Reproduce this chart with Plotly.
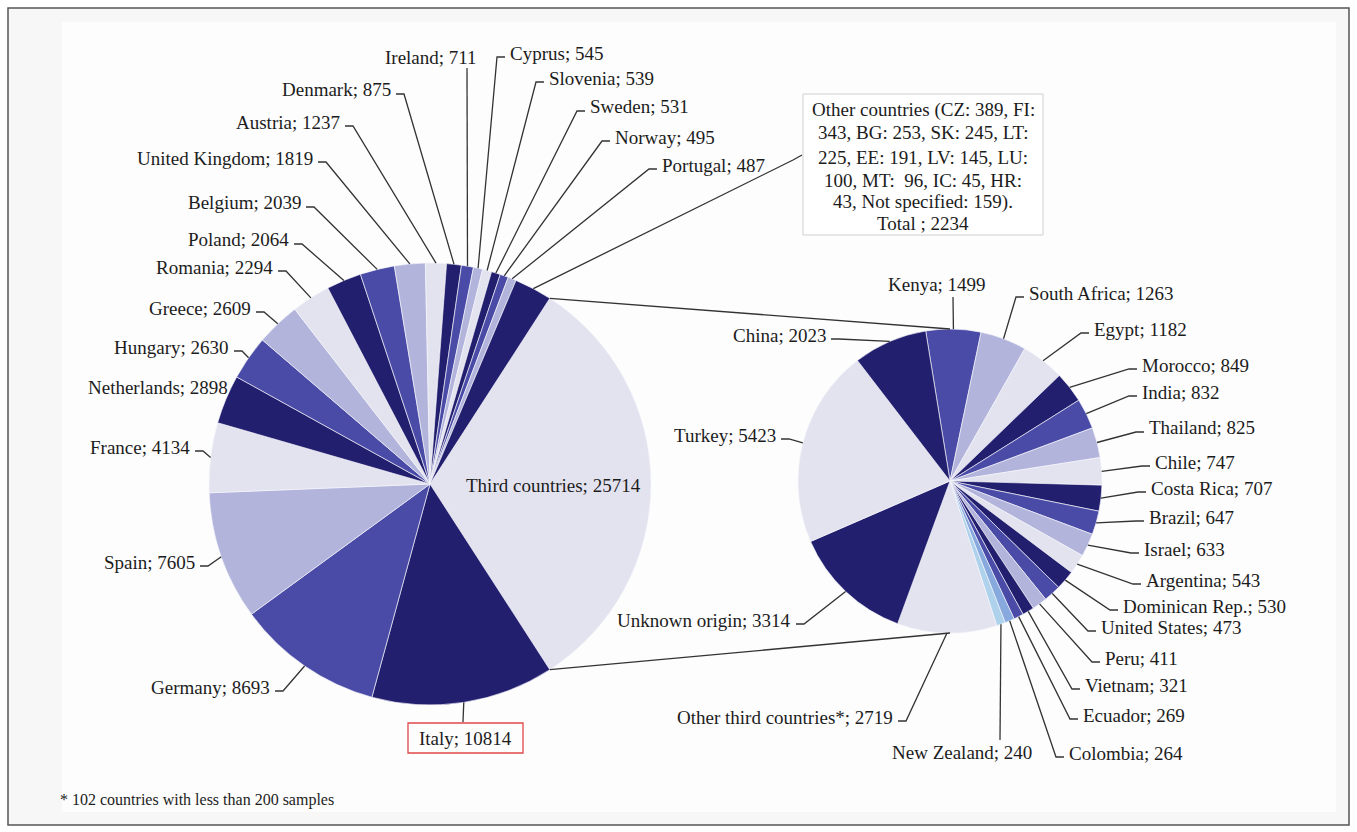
import numpy as np
import plotly.graph_objects as go

W, H = 1357, 832

# ---------------- data ----------------
eu_labels = ["Third countries", "Italy", "Germany", "Spain", "France", "Netherlands",
             "Hungary", "Greece", "Romania", "Poland", "Belgium", "United Kingdom",
             "Austria", "Denmark", "Ireland", "Cyprus", "Slovenia", "Sweden", "Norway",
             "Portugal", "Other countries"]
eu_values = [25714, 10814, 8693, 7605, 4134, 2898, 2630, 2609, 2294, 2064, 2039, 1819,
             1237, 875, 711, 545, 539, 531, 495, 487, 2234]

third_labels = ["Kenya", "South Africa", "Egypt", "Morocco", "India", "Thailand", "Chile",
                "Costa Rica", "Brazil", "Israel", "Argentina", "Dominican Rep.",
                "United States", "Peru", "Vietnam", "Ecuador", "Colombia", "New Zealand",
                "Other third countries*", "Unknown origin", "Turkey", "China"]
third_values = [1499, 1263, 1182, 849, 832, 825, 747, 707, 647, 633, 543, 530, 473, 411,
                321, 269, 264, 240, 2719, 3314, 5423, 2023]

other_box_lines = [
    "Other countries (CZ: 389, FI:",
    "343, BG: 253, SK: 245, LT:",
    "225, EE: 191, LV: 145, LU:",
    "100, MT:\u00a0 96, IC: 45, HR:",
    "43, Not specified: 159).",
    "Total ; 2234",
]
footnote = "* 102 countries with less than 200 samples"

# ---------------- styles ----------------
D, M, L, VL = "#231f6f", "#4a4ba6", "#b2b4dc", "#e3e3ef"
eu_colors = [VL, D, M, L, VL, D, M, L, VL, D, M, L, VL, D, M, L, VL, D, M, L, D]
third_colors = [M, L, VL, D, M, L, VL, D, M, L, VL, D, M, L, D, M, "#87a9dd", "#aed2ec",
                VL, D, VL, D]
FONT = "Liberation Serif, Times New Roman, serif"
TXT = "#1c1c1c"
LINE = "#333333"

# ---------------- geometry (pixels) ----------------
BIG_C, BIG_R = (430.0, 484.0), 221.0
SMALL_C, SMALL_R = (950.0, 481.0), 152.0
third_share = eu_values[0] / sum(eu_values)
big_rot = 90 - third_share * 360 / 2
small_rot = -9.2


def px(x):
    return x / W


def py(y):
    return 1 - y / H


def domain(c, r):
    return dict(x=[(c[0] - r) / W, (c[0] + r) / W], y=[1 - (c[1] + r) / H, 1 - (c[1] - r) / H])


def angles(values, rot):
    v = np.asarray(values, float)
    cum = np.concatenate([[0], np.cumsum(v)]) / v.sum() * 360
    return rot + (cum[:-1] + cum[1:]) / 2, rot + cum


def edge(c, r, ang):
    a = np.radians(ang)
    return c[0] + r * np.sin(a), c[1] - r * np.cos(a)


# label placement: (anchor, x, y, leader start for centered labels)
eu_pos = {
    "Third countries": ("inside", 553, 485, None),
    "Italy": ("center", 465, 738, (463, 722)),
    "Germany": ("right", 272, 687, None),
    "Spain": ("right", 197, 562, None),
    "France": ("right", 192, 447, None),
    "Netherlands": ("right", 230, 387, "none"),
    "Hungary": ("right", 231, 347, None),
    "Greece": ("right", 253, 308, None),
    "Romania": ("right", 275, 267, None),
    "Poland": ("right", 291, 240, None),
    "Belgium": ("right", 303, 203, None),
    "United Kingdom": ("right", 315, 158, None),
    "Austria": ("right", 342, 122, None),
    "Denmark": ("right", 393, 90, None),
    "Ireland": ("center", 431, 57, (467, 68)),
    "Cyprus": ("left", 508, 53, None),
    "Slovenia": ("left", 547, 78, None),
    "Sweden": ("left", 588, 107, None),
    "Norway": ("left", 613, 137, None),
    "Portugal": ("left", 660, 165, None),
}
third_pos = {
    "Kenya": ("center", 937, 285, (953, 297)),
    "South Africa": ("left", 1027, 293, None),
    "Egypt": ("left", 1092, 329, None),
    "Morocco": ("left", 1140, 365, None),
    "India": ("left", 1140, 392, None),
    "Thailand": ("left", 1147, 428, None),
    "Chile": ("left", 1153, 462, None),
    "Costa Rica": ("left", 1149, 488, None),
    "Brazil": ("left", 1147, 517, None),
    "Israel": ("left", 1142, 549, None),
    "Argentina": ("left", 1144, 580, None),
    "Dominican Rep.": ("left", 1121, 606, None),
    "United States": ("left", 1099, 627, None),
    "Peru": ("left", 1103, 658, None),
    "Vietnam": ("left", 1083, 685, None),
    "Ecuador": ("left", 1081, 715, None),
    "Colombia": ("left", 1067, 753, None),
    "New Zealand": ("center", 962, 752, (1000, 740)),
    "Other third countries*": ("right", 895, 717, None),
    "Unknown origin": ("right", 793, 620, None),
    "Turkey": ("right", 778, 435, None),
    "China": ("right", 828, 335, None),
}
BOX = (803, 94, 1043, 235)
BOX_LINE_Y = [110, 133, 157, 180, 202, 224]
ITALY_BOX = (408, 723, 523, 753)

fig = go.Figure()
fig.add_trace(go.Pie(labels=eu_labels, values=eu_values, sort=False, direction="clockwise",
                     rotation=big_rot, textinfo="none", hoverinfo="label+value",
                     marker=dict(colors=eu_colors, line=dict(color="rgba(245,245,252,0.8)", width=0.8)),
                     domain=domain(BIG_C, BIG_R), showlegend=False))
fig.add_trace(go.Pie(labels=third_labels, values=third_values, sort=False, direction="clockwise",
                     rotation=small_rot, textinfo="none", hoverinfo="label+value",
                     marker=dict(colors=third_colors, line=dict(color="rgba(245,245,252,0.8)", width=0.8)),
                     domain=domain(SMALL_C, SMALL_R), showlegend=False))

shapes = []
annotations = []

# background & frame
shapes.append(dict(type="rect", xref="paper", yref="paper", x0=px(8), x1=px(1349), y0=py(825), y1=py(8),
                   fillcolor="#f7f7f7", line=dict(color="#555555", width=1.5), layer="below"))
shapes.append(dict(type="rect", xref="paper", yref="paper", x0=px(62), x1=px(1336), y0=py(812), y1=py(22),
                   fillcolor="#fdfdfd", line=dict(width=0), layer="below"))


def path(points):
    return "M " + " L ".join(f"{px(x):.5f},{py(y):.5f}" for x, y in points)


def add_line(points, color=LINE, width=1.3):
    shapes.append(dict(type="path", xref="paper", yref="paper", path=path(points),
                       line=dict(color=color, width=width), layer="above"))


def add_text(text, x, y, anchor, size=19):
    annotations.append(dict(text=text, x=px(x), y=py(y), xref="paper", yref="paper",
                            xanchor=anchor, yanchor="middle", showarrow=False,
                            font=dict(family=FONT, size=size, color=TXT)))


def place_labels(labels, values, pos, c, r, rot):
    mids, _ = angles(values, rot)
    for lab, val, mid in zip(labels, values, mids):
        if lab not in pos:
            continue
        anchor, x, y, start = pos[lab]
        ex, ey = edge(c, r, mid)
        text = f"{lab}; {val}"
        if anchor == "inside":
            add_text(text, x, y, "center")
            continue
        add_text(text, x, y, anchor)
        if start == "none":
            continue
        if anchor == "center":
            add_line([start, (ex, ey)])
        elif anchor == "right":
            add_line([(x + 3, y + 4), (x + 11, y + 4), (ex, ey)])
        else:
            add_line([(x - 3, y + 4), (x - 11, y + 4), (ex, ey)])


place_labels(eu_labels, eu_values, eu_pos, BIG_C, BIG_R, big_rot)
place_labels(third_labels, third_values, third_pos, SMALL_C, SMALL_R, small_rot)

# Other countries box
mids, bounds = angles(eu_values, big_rot)
ox, oy = edge(BIG_C, BIG_R, mids[-1])
shapes.append(dict(type="rect", xref="paper", yref="paper", x0=px(BOX[0]), x1=px(BOX[2]),
                   y0=py(BOX[3]), y1=py(BOX[1]), fillcolor="#ffffff",
                   line=dict(color="#cfcfcf", width=1), layer="above"))
for ln, yy in zip(other_box_lines, BOX_LINE_Y):
    add_text(ln, (BOX[0] + BOX[2]) / 2, yy, "center")
add_line([(BOX[0] - 1, 155), (BOX[0] - 10, 160), (ox, oy)])

# Italy red box
shapes.append(dict(type="rect", xref="paper", yref="paper", x0=px(ITALY_BOX[0]), x1=px(ITALY_BOX[2]),
                   y0=py(ITALY_BOX[3]), y1=py(ITALY_BOX[1]),
                   line=dict(color="#e0474a", width=1.3), layer="above"))

# connector lines between pies (edges of the "Third countries" slice)
t0 = edge(BIG_C, BIG_R, bounds[0])
t1 = edge(BIG_C, BIG_R, bounds[1])
add_line([t0, (SMALL_C[0], SMALL_C[1] - SMALL_R)])
add_line([t1, (SMALL_C[0], SMALL_C[1] + SMALL_R)])

# footnote
add_text(footnote, 58, 800, "left", size=16)

fig.update_layout(width=W, height=H, autosize=False, margin=dict(l=0, r=0, t=0, b=0),
                  paper_bgcolor="#ffffff", plot_bgcolor="#ffffff",
                  shapes=shapes, annotations=annotations, showlegend=False)

fig.write_html("out.html")
